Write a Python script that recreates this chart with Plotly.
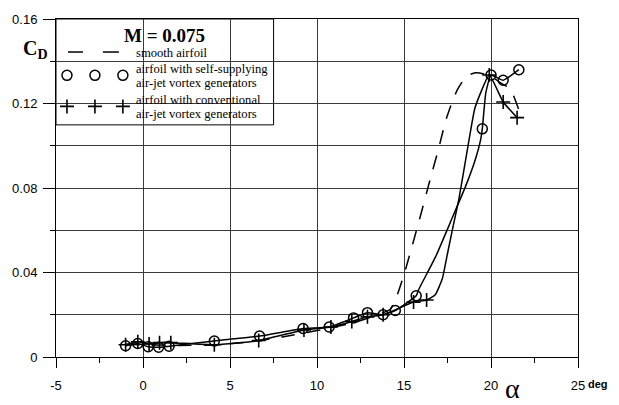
import plotly.graph_objects as go

# ---- data ----
# self-supplying air-jet VG (circles)
alpha_ss = [-1.0, -0.3, 0.3, 0.9, 1.5, 4.1, 6.7, 9.2, 10.7, 12.1, 12.9, 13.8, 14.5, 15.7, 19.5, 20.0, 20.7, 21.6]
cd_ss = [0.0053, 0.0064, 0.0049, 0.0046, 0.0051, 0.0076, 0.0099, 0.0135, 0.0142, 0.0185, 0.0210, 0.0200, 0.0220, 0.0290, 0.1080, 0.1335, 0.1310, 0.1360]
# conventional air-jet VG (plus)
alpha_cv = [-1.0, -0.3, 0.35, 0.95, 1.6, 4.1, 6.65, 9.25, 10.8, 12.0, 12.9, 13.8, 15.55, 16.3, 19.9, 20.7, 21.5]
cd_cv = [0.0058, 0.0072, 0.0062, 0.0068, 0.0068, 0.0058, 0.0078, 0.0128, 0.0142, 0.0168, 0.0190, 0.0200, 0.0260, 0.0270, 0.1335, 0.1207, 0.1133]

# fitted curves
curve_ss_alpha = [-1.0, -0.3, 0.3, 0.9, 1.5, 4.1, 6.7, 9.2, 10.7, 12.1, 12.9, 13.8, 14.5, 15.7, 15.86, 16.82, 17.78, 18.55, 19.1, 19.4, 19.5, 19.7, 20.0, 20.7, 21.6]
curve_ss_cd = [0.0053, 0.0064, 0.0049, 0.0046, 0.0051, 0.0076, 0.0099, 0.0135, 0.0142, 0.0185, 0.0210, 0.0200, 0.0220, 0.0290, 0.0322, 0.0475, 0.0660, 0.0810, 0.0935, 0.1027, 0.1080, 0.1250, 0.1335, 0.1310, 0.1360]

curve_cv_alpha = [-1.0, -0.3, 0.35, 0.95, 1.6, 4.1, 6.65, 9.25, 10.8, 12.0, 12.9, 13.8, 15.55, 16.3, 16.8, 17.2, 17.5, 17.8, 18.16, 18.64, 19.08, 19.9, 20.7, 21.5]
curve_cv_cd = [0.0058, 0.0072, 0.0062, 0.0068, 0.0068, 0.0058, 0.0078, 0.0128, 0.0142, 0.0168, 0.0190, 0.0200, 0.0260, 0.0270, 0.0295, 0.0370, 0.0490, 0.0610, 0.0750, 0.0980, 0.1180, 0.1335, 0.1207, 0.1133]

# smooth airfoil (dashed)
alpha_sm = [-1.0, 0.0, 2.0, 4.0, 6.0, 8.0, 10.0, 12.0, 13.5, 14.2, 14.5, 15.0, 15.5, 16.0, 16.5, 17.0, 17.4, 17.8, 18.1, 18.6, 19.1, 19.6, 20.0, 20.5, 21.1, 21.6]
cd_sm = [0.0060, 0.0058, 0.0055, 0.0057, 0.0070, 0.0095, 0.0125, 0.0160, 0.0200, 0.0225, 0.0268, 0.0390, 0.0535, 0.0685, 0.0840, 0.0990, 0.1120, 0.1215, 0.1270, 0.1330, 0.1345, 0.1340, 0.1330, 0.1300, 0.1270, 0.1170]

x_ticks = [-5, 0, 5, 10, 15, 20, 25]
x_tick_text = ["-5", "0", "5", "10", "15", "20", "25"]
y_ticks = [0, 0.04, 0.08, 0.12, 0.16]
y_tick_text = ["0", "0.04", "0.08", "0.12", "0.16"]

title_text = "M = 0.075"
legend_names = ["smooth airfoil",
                ["airfoil with self-supplying", "air-jet vortex generators"],
                ["airfoil with conventional", "air-jet vortex generators"]]

W, H = 619, 405
ML, MR, MT, MB = 55, 41, 15, 42
PW, PH = W - ML - MR, H - MT - MB


def px(x):
    return (x - ML) / PW


def py(y):
    return (H - MB - y) / PH


fig = go.Figure()
LW = 1.5
fig.add_trace(go.Scatter(x=alpha_sm, y=cd_sm, mode="lines", line=dict(color="black", width=LW, dash="14px,12px", shape="spline", smoothing=0.5), showlegend=False))
fig.add_trace(go.Scatter(x=curve_ss_alpha, y=curve_ss_cd, mode="lines", line=dict(color="black", width=LW, shape="spline", smoothing=0.4), showlegend=False))
fig.add_trace(go.Scatter(x=curve_cv_alpha, y=curve_cv_cd, mode="lines", line=dict(color="black", width=LW, shape="spline", smoothing=0.4), showlegend=False))
circle_marker = dict(symbol="circle-open", size=10, color="black", line=dict(width=1.5, color="black"))
plus_marker = dict(symbol="cross-thin-open", size=10, color="black", line=dict(width=1.6, color="black"))
fig.add_trace(go.Scatter(x=alpha_ss, y=cd_ss, mode="markers", marker=circle_marker, showlegend=False))
fig.add_trace(go.Scatter(x=alpha_cv, y=cd_cv, mode="markers", marker=plus_marker, showlegend=False))

# legend samples on an overlay axis in plot-fraction coordinates
sample_x = [px(66), px(94), px(122)]
fig.add_trace(go.Scatter(x=sample_x, y=[py(73)] * 3, xaxis="x2", yaxis="y2", mode="markers",
                         marker=circle_marker, showlegend=False))
fig.add_trace(go.Scatter(x=sample_x, y=[py(105)] * 3, xaxis="x2", yaxis="y2", mode="markers",
                         marker=plus_marker, showlegend=False))

grid_c = "#3a3a3a"
axis_font = dict(family="Liberation Sans, Arial", size=13, color="black")
fig.update_layout(
    width=W, height=H,
    margin=dict(l=ML, r=MR, t=MT, b=MB, pad=0),
    paper_bgcolor="white", plot_bgcolor="white",
    showlegend=False,
    xaxis=dict(range=[-5, 25], tickvals=x_ticks, ticktext=x_tick_text, showgrid=True, gridcolor=grid_c, gridwidth=1,
               zeroline=False, showline=True, linecolor="black", linewidth=1, mirror=True,
               ticks="outside", ticklen=10, tickcolor="black", tickwidth=1, tickfont=axis_font,
               ticklabelstandoff=6,
               minor=dict(dtick=2.5, tick0=0, ticks="outside", ticklen=5, tickcolor="black", showgrid=False)),
    yaxis=dict(range=[0, 0.16], tickvals=y_ticks, ticktext=y_tick_text, showgrid=True, gridcolor=grid_c, gridwidth=1,
               zeroline=False, showline=True, linecolor="black", linewidth=1, mirror=True,
               ticks="outside", ticklen=12, tickcolor="black", tickwidth=1, tickfont=axis_font,
               ticklabelstandoff=3,
               minor=dict(dtick=0.02, tick0=0, ticks="outside", ticklen=5, tickcolor="black",
                          showgrid=True, gridcolor=grid_c, gridwidth=1)),
    xaxis2=dict(range=[0, 1], overlaying="x", visible=False, fixedrange=True),
    yaxis2=dict(range=[0, 1], overlaying="y", visible=False, fixedrange=True),
)

shapes = [
    dict(type="rect", xref="paper", yref="paper", x0=0, x1=px(273), y0=py(124), y1=1,
         line=dict(color="black", width=1), fillcolor="white", layer="between"),
    dict(type="line", xref="paper", yref="paper", x0=px(67), x1=px(82), y0=py(49), y1=py(49),
         line=dict(color="black", width=1.5), layer="above"),
    dict(type="line", xref="paper", yref="paper", x0=px(102), x1=px(118), y0=py(49), y1=py(49),
         line=dict(color="black", width=1.5), layer="above"),
]
fig.update_layout(shapes=shapes)

serif = "Liberation Serif, Times New Roman"
LF = 12.6
TX = px(133)
ann = [
    dict(text="<b>" + title_text + "</b>", x=px(164), y=py(32), font=dict(family=serif, size=19, color="black"),
         xanchor="center", yanchor="middle"),
    dict(text=legend_names[0], x=TX, y=py(50), font=dict(family=serif, size=LF, color="black"),
         xanchor="left", yanchor="middle"),
    dict(text=legend_names[1][0], x=TX, y=py(66), font=dict(family=serif, size=LF, color="black"),
         xanchor="left", yanchor="middle"),
    dict(text=legend_names[1][1], x=TX, y=py(81), font=dict(family=serif, size=LF, color="black"),
         xanchor="left", yanchor="middle"),
    dict(text=legend_names[2][0], x=TX, y=py(98), font=dict(family=serif, size=LF, color="black"),
         xanchor="left", yanchor="middle"),
    dict(text=legend_names[2][1], x=TX, y=py(113), font=dict(family=serif, size=LF, color="black"),
         xanchor="left", yanchor="middle"),
    dict(text="<b>C<sub>D</sub></b>", x=px(34), y=py(46), font=dict(family=serif, size=20, color="black"),
         xanchor="center", yanchor="middle"),
    dict(text="<b>deg</b>", x=px(598), y=py(391), font=dict(family="Liberation Sans, Arial", size=11, color="black"),
         xanchor="center", yanchor="middle"),
    dict(text="α", x=px(512), y=py(395), font=dict(family=serif, size=28, color="black"),
         xanchor="center", yanchor="middle"),
]
for a in ann:
    a.update(xref="paper", yref="paper", showarrow=False)
fig.update_layout(annotations=ann)

fig.write_html("out.html")
